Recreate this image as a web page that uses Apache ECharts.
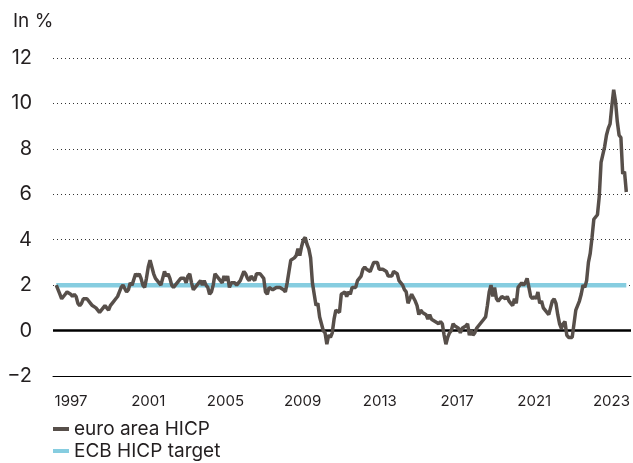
<!DOCTYPE html>
<html>
<head>
<meta charset="utf-8">
<script src="https://cdn.jsdelivr.net/npm/echarts@6/dist/echarts.min.js"></script>
<style>
    html, body { margin: 0; padding: 0; background: #fff; }
    #chart { width: 633px; height: 463px; }
</style>
</head>
<body>
<div id="chart"></div>
<script>
// euro area HICP, annual rate in %, monthly from Jan 1997
const startYear = 1997
const hicp = [
    2.0, 1.8, 1.6, 1.4, 1.5, 1.6, 1.7, 1.7, 1.6, 1.5, 1.6, 1.5, // 1997
    1.2, 1.1, 1.2, 1.4, 1.4, 1.4, 1.4, 1.2, 1.1, 1.1, 1.0, 0.9, // 1998
    0.8, 0.8, 1.0, 1.1, 1.0, 0.9, 1.1, 1.2, 1.2, 1.4, 1.5, 1.7, // 1999
    1.9, 2.0, 2.0, 1.7, 1.8, 2.1, 2.0, 2.0, 2.5, 2.4, 2.5, 2.3, // 2000
    2.0, 1.9, 2.3, 2.8, 3.1, 2.8, 2.5, 2.3, 2.2, 2.2, 2.0, 2.0, // 2001
    2.6, 2.4, 2.5, 2.3, 2.0, 1.9, 2.0, 2.1, 2.1, 2.3, 2.3, 2.3, // 2002
    2.1, 2.4, 2.5, 2.1, 1.8, 1.9, 1.9, 2.1, 2.2, 2.0, 2.2, 2.0, // 2003
    1.9, 1.6, 1.7, 2.0, 2.5, 2.4, 2.3, 2.3, 2.1, 2.4, 2.2, 2.4, // 2004
    1.9, 2.1, 2.1, 2.1, 2.0, 2.1, 2.2, 2.2, 2.6, 2.5, 2.3, 2.2, // 2005
    2.4, 2.3, 2.2, 2.5, 2.5, 2.5, 2.5, 2.3, 1.7, 1.6, 1.9, 1.9, // 2006
    1.8, 1.8, 1.9, 1.9, 1.9, 1.9, 1.8, 1.7, 2.1, 2.6, 3.1, 3.1, // 2007
    3.2, 3.3, 3.6, 3.3, 3.7, 4.0, 4.1, 3.8, 3.6, 3.2, 2.1, 1.6, // 2008
    1.1, 1.2, 0.6, 0.6, 0.0, -0.1, -0.6, -0.2, -0.3, -0.1, 0.5, 0.9, // 2009
    0.9, 0.8, 1.6, 1.6, 1.7, 1.5, 1.7, 1.6, 1.9, 1.9, 1.9, 2.2, // 2010
    2.3, 2.4, 2.7, 2.8, 2.7, 2.7, 2.6, 2.6, 3.0, 3.0, 3.0, 2.7, // 2011
    2.7, 2.7, 2.7, 2.6, 2.4, 2.4, 2.4, 2.6, 2.6, 2.5, 2.2, 2.2, // 2012
    2.0, 1.8, 1.7, 1.2, 1.4, 1.6, 1.6, 1.3, 1.1, 0.7, 0.9, 0.8, // 2013
    0.8, 0.7, 0.5, 0.7, 0.5, 0.5, 0.4, 0.4, 0.3, 0.4, 0.3, -0.2, // 2014
    -0.6, -0.3, -0.1, 0.0, 0.3, 0.2, 0.2, 0.1, -0.1, 0.1, 0.1, 0.2, // 2015
    0.3, -0.2, 0.0, -0.2, -0.1, 0.1, 0.2, 0.2, 0.4, 0.5, 0.6, 1.1, // 2016
    1.7, 2.0, 1.5, 1.9, 1.4, 1.3, 1.3, 1.5, 1.5, 1.4, 1.5, 1.3, // 2017
    1.3, 1.1, 1.4, 1.2, 1.9, 2.0, 2.1, 2.0, 2.1, 2.3, 1.9, 1.5, // 2018
    1.4, 1.5, 1.4, 1.7, 1.2, 1.3, 1.0, 1.0, 0.8, 0.7, 1.0, 1.3, // 2019
    1.4, 1.2, 0.7, 0.3, 0.1, 0.3, 0.4, -0.2, -0.3, -0.3, -0.3, -0.3, // 2020
    0.9, 0.9, 1.3, 1.6, 2.0, 1.9, 2.2, 3.0, 3.4, 4.1, 4.9, 5.0, // 2021
    5.1, 5.9, 7.4, 7.4, 8.1, 8.6, 8.9, 9.1, 9.9, 10.6, 10.1, 9.2, // 2022
    8.6, 8.5, 6.9, 7.0, 6.1 // 2023
]
const target = 2
const xLabels = ['1997', '2001', '2005', '2009', '2013', '2017', '2021', '2023']
const yMin = -2
const yMax = 12
const yStep = 2

const TEXT_COLOR = '#231f20'
const HICP_COLOR = '#574f4a'
const TARGET_COLOR = '#86cde0'
const FONT = 'Inter'

const chart = echarts.init(document.getElementById('chart'))

// x positions from month index
const hicpData = hicp.map((v, i) => [startYear + i / 12, v])
const targetData = hicp.map((v, i) => [startYear + i / 12, target])

const option = {
    animation: false,
    textStyle: { fontFamily: FONT },
    title: {
        text: 'In %',
        left: 8,
        top: 7,
        textStyle: { fontSize: 19, fontWeight: 'normal', color: TEXT_COLOR, fontFamily: FONT }
    },
    legend: {
        orient: 'vertical',
        left: 48,
        top: 419,
        bottom: 0,
        padding: [0, 5],
        itemWidth: 16,
        itemHeight: 4,
        itemGap: 2,
        textStyle: { fontSize: 19, lineHeight: 20, color: TEXT_COLOR, fontFamily: FONT },
        data: [
            { name: 'euro area HICP', icon: 'rect', itemStyle: { color: HICP_COLOR } },
            { name: 'ECB HICP target', icon: 'rect', itemStyle: { color: TARGET_COLOR } }
        ]
    },
    grid: [
        { left: 53, right: 2, top: 58, bottom: 87 },
        // grid only for the year labels
        { left: 71, right: 19, top: 58, bottom: 87 }
    ],
    xAxis: [
        {
            type: 'value',
            gridIndex: 0,
            min: 1996.85,
            max: 2023.55,
            axisLine: { show: true, onZero: false, lineStyle: { color: '#000', width: 1 } },
            axisTick: { show: false },
            axisLabel: { show: false },
            splitLine: { show: false }
        },
        {
            type: 'category',
            gridIndex: 1,
            boundaryGap: false,
            data: xLabels,
            axisLine: { show: false },
            axisTick: { show: false },
            axisLabel: { fontSize: 15, color: TEXT_COLOR, margin: 18, fontFamily: FONT },
            splitLine: { show: false }
        }
    ],
    yAxis: [
        {
            type: 'value',
            gridIndex: 0,
            min: yMin,
            max: yMax,
            interval: yStep,
            axisLine: { show: false },
            axisTick: { show: false },
            axisLabel: {
                fontSize: 20,
                color: TEXT_COLOR,
                margin: 21,
                fontFamily: FONT,
                formatter: v => v < 0 ? '\u2212' + Math.abs(v) : String(v)
            },
            splitLine: {
                show: true,
                lineStyle: { color: '#333', width: 1, type: [1, 3] }
            }
        },
        {
            type: 'value',
            gridIndex: 1,
            show: false
        }
    ],
    series: [
        {
            name: 'ECB HICP target',
            type: 'line',
            xAxisIndex: 0,
            yAxisIndex: 0,
            data: targetData,
            showSymbol: false,
            color: TARGET_COLOR,
            lineStyle: { width: 4.5, color: TARGET_COLOR },
            z: 2
        },
        {
            name: 'euro area HICP',
            type: 'line',
            xAxisIndex: 0,
            yAxisIndex: 0,
            data: hicpData,
            showSymbol: false,
            color: HICP_COLOR,
            lineStyle: { width: 3.5, color: HICP_COLOR },
            z: 4,
            markLine: {
                silent: true,
                symbol: 'none',
                label: { show: false },
                lineStyle: { color: '#000', width: 2.5, type: 'solid' },
                data: [{ yAxis: 0 }],
                z: 3
            }
        }
    ]
}

chart.setOption(option)
</script>
</body>
</html>
